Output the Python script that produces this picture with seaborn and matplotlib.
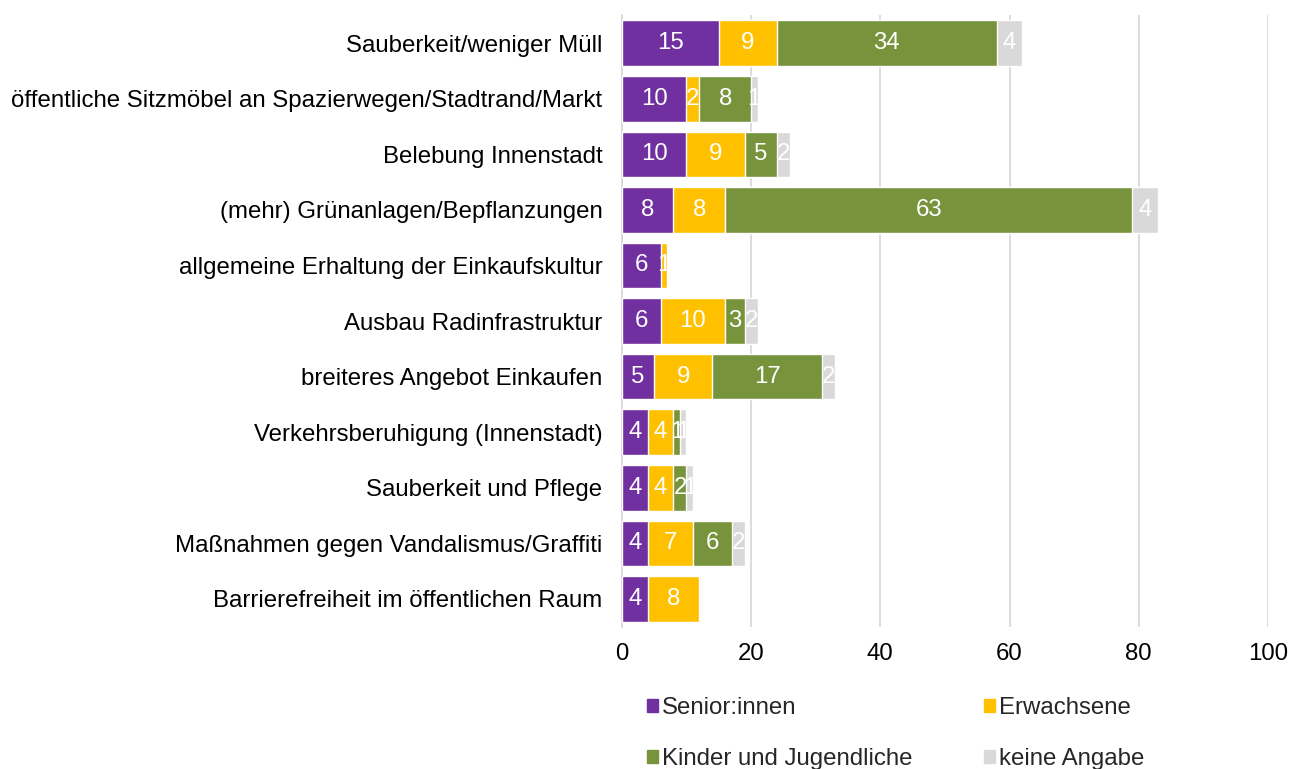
import numpy as np
import pandas as pd
import seaborn as sns
import matplotlib.pyplot as plt
from matplotlib.patches import Patch

# Daten
kategorien = [
    "Sauberkeit/weniger Müll",
    "öffentliche Sitzmöbel an Spazierwegen/Stadtrand/Markt",
    "Belebung Innenstadt",
    "(mehr) Grünanlagen/Bepflanzungen",
    "allgemeine Erhaltung der Einkaufskultur",
    "Ausbau Radinfrastruktur",
    "breiteres Angebot Einkaufen",
    "Verkehrsberuhigung (Innenstadt)",
    "Sauberkeit und Pflege",
    "Maßnahmen gegen Vandalismus/Graffiti",
    "Barrierefreiheit im öffentlichen Raum",
]
senioren = [15, 10, 10, 8, 6, 6, 5, 4, 4, 4, 4]
erwachsene = [9, 2, 9, 8, 1, 10, 9, 4, 4, 7, 8]
kinder = [34, 8, 5, 63, 0, 3, 17, 1, 2, 6, 0]
keine_angabe = [4, 1, 2, 4, 0, 2, 2, 1, 1, 2, 0]

gruppen = ["Senior:innen", "Erwachsene", "Kinder und Jugendliche", "keine Angabe"]
farben = ["#7030A0", "#FFC000", "#77933C", "#D9D9D9"]

df = pd.DataFrame({"kategorie": kategorien, gruppen[0]: senioren, gruppen[1]: erwachsene,
                   gruppen[2]: kinder, gruppen[3]: keine_angabe})
cum = df[gruppen].cumsum(axis=1)

sns.set_style("white")
plt.rcParams["font.family"] = ["Liberation Sans", "DejaVu Sans"]
fs = 17.3

fig = plt.figure(figsize=(12.9, 7.69), dpi=100)
ax = fig.add_axes([0.482, 0.185, 0.501, 0.795])

# gestapelt: erst Summe, dann kleinere Teilsummen darüber
for g, c in reversed(list(zip(gruppen, farben))):
    sns.barplot(x=cum[g], y=df["kategorie"], color=c, orient="h", width=0.82,
                saturation=1, ax=ax, zorder=3)

# Werte in den Segmenten
for i in range(len(df)):
    start = 0
    for g in gruppen:
        v = df.loc[i, g]
        if v > 0:
            ax.text(start + v / 2, i, str(v), ha="center", va="center", color="white",
                    fontsize=fs, zorder=4)
        start += v

ax.set_xlim(0, 100)
ax.set_xticks(range(0, 101, 20))
ax.xaxis.grid(True, color="#D9D9D9", linewidth=1.3, zorder=0)
ax.set_axisbelow(True)
ax.set_xlabel("")
ax.set_ylabel("")
for s in ["top", "right", "bottom"]:
    ax.spines[s].set_visible(False)
ax.spines["left"].set_color("#D9D9D9")
ax.spines["left"].set_linewidth(1.3)
ax.tick_params(axis="y", length=0, labelsize=fs, pad=14, labelcolor="black")
ax.tick_params(axis="x", length=0, labelsize=fs, pad=12, labelcolor="black")

# Legende zeilenweise (ncol=2 füllt spaltenweise)
reihenfolge = [0, 2, 1, 3]
handles = [Patch(color=farben[k], label=gruppen[k]) for k in reihenfolge]
fig.legend(handles=handles, ncol=2, loc="upper left", bbox_to_anchor=(0.485, 0.122),
           frameon=False, fontsize=fs, handlelength=0.45, handleheight=0.45,
           handletextpad=0.15, labelspacing=1.2, columnspacing=3.0)

plt.savefig("out.png", dpi=100)
